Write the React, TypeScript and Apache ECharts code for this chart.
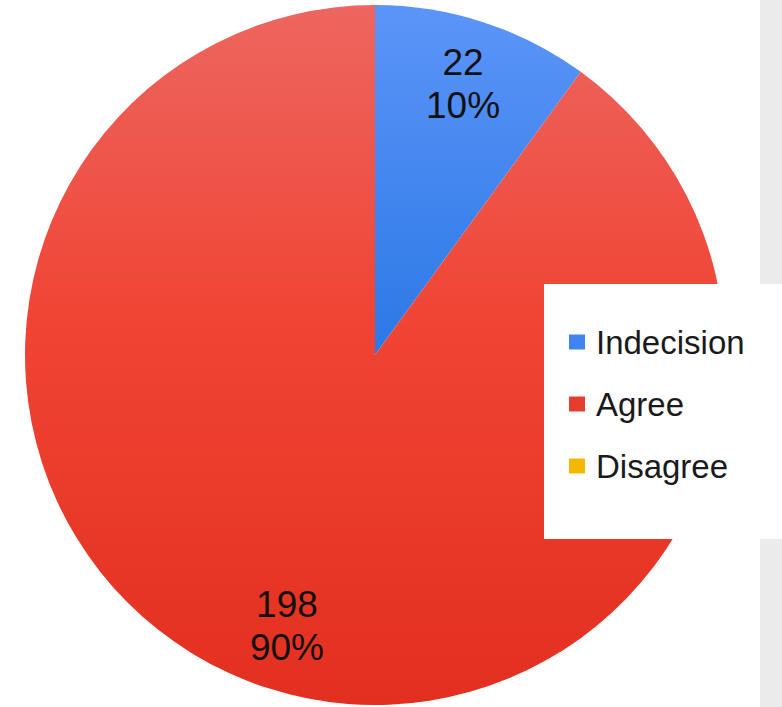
import React, { useEffect, useRef } from "react";
import * as echarts from "echarts";

const categories = ["Indecision", "Agree", "Disagree"];
const values = [22, 198, 0];
const topColors = ["#5c95f9", "#ed6660", "#f7c21a"];
const midColors = ["#4688f0", "#f04434", "#f5b800"];
const bottomColors = ["#2c78e6", "#e32f1f", "#f0a800"];
const legendColors = ["#3f84f0", "#e53d30", "#f5b800"];

const FONT = "'Liberation Sans', Arial, sans-serif";

export default function App() {
  const ref = useRef<HTMLDivElement>(null);
  useEffect(() => {
    if (!ref.current) return;
    const chart = echarts.init(ref.current, undefined, { renderer: "svg" });
    const pieData = categories.map((name, i) => ({
      name,
      value: values[i],
      itemStyle: {
        color: new echarts.graphic.LinearGradient(0, 0, 0, 1, [
          { offset: 0, color: topColors[i] },
          { offset: 0.45, color: midColors[i] },
          { offset: 1, color: bottomColors[i] },
        ]),
      },
    }));
    const labelData = categories.map((name, i) => ({ name, value: values[i] }));
    chart.setOption({
      animation: false,
      backgroundColor: "#ffffff",
      graphic: [
        {
          type: "rect",
          z: -10,
          shape: { x: 760, y: 0, width: 22, height: 707 },
          style: { fill: "#ebebeb" },
        },
      ],
      legend: {
        orient: "vertical",
        left: 544,
        top: 284,
        backgroundColor: "#ffffff",
        padding: [40, 60, 55, 25],
        itemGap: 26,
        itemWidth: 16,
        itemHeight: 15,
        icon: "rect",
        z: 10,
        textStyle: {
          fontFamily: FONT,
          fontSize: 33,
          lineHeight: 36,
          color: "#1a1a1a",
          padding: [0, 0, 0, 6],
        },
        data: categories.map((name, i) => ({
          name,
          itemStyle: { color: legendColors[i] },
        })),
      },
      series: [
        {
          type: "pie",
          center: [375, 355],
          radius: [0, 350],
          startAngle: 90,
          clockwise: true,
          silent: true,
          label: { show: false },
          labelLine: { show: false },
          data: pieData,
        },
        {
          type: "pie",
          center: [375, 355],
          radius: [214, 350],
          startAngle: 90,
          clockwise: true,
          silent: true,
          minShowLabelAngle: 1,
          itemStyle: { color: "rgba(0,0,0,0)" },
          label: {
            show: true,
            position: "inside",
            formatter: "{c}\n{d}%",
            fontFamily: FONT,
            fontSize: 37,
            lineHeight: 43,
            color: "#111111",
          },
          labelLine: { show: false },
          data: labelData,
        },
      ],
    });
    return () => chart.dispose();
  }, []);
  return (
    <div
      ref={ref}
      style={{ position: "fixed", left: 0, top: 0, width: 782, height: 707 }}
    />
  );
}
